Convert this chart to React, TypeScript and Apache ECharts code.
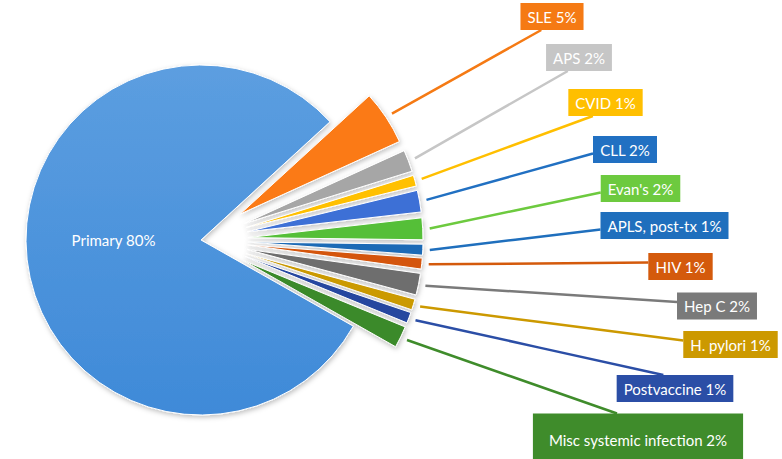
import React, { useEffect, useRef } from "react";
import * as echarts from "echarts";

// ---- data ----
const categories = [
  "SLE",
  "APS",
  "CVID",
  "CLL",
  "Evan's",
  "APLS, post-tx",
  "HIV",
  "Hep C",
  "H. pylori",
  "Postvaccine",
  "Misc systemic infection",
  "Primary",
];
const values = [5, 2, 1, 2, 2, 1, 1, 2, 1, 1, 2, 80];

// ---- styles ----
const sliceColors = [
  "#fb7a14",
  "#a6a6a6",
  "#ffc000",
  "#3e70d6",
  "#55bf38",
  "#1f6bb6",
  "#d4550a",
  "#6e6e6e",
  "#cb9a06",
  "#25479f",
  "#3b8a2a",
  "#4a91dc",
];
const labelColors = [
  "#f57a14",
  "#c6c6c6",
  "#ffbf00",
  "#2170c2",
  "#6dca3f",
  "#1f6fbd",
  "#d45a0c",
  "#7a7a7a",
  "#cc9900",
  "#2b4ea6",
  "#3f8c2b",
];
// label box centres (layout) and which side the leader line meets
const labelCenters: [number, number][] = [
  [552, 16.5],
  [579, 57.5],
  [605.5, 102.5],
  [625, 149.5],
  [640.5, 188.5],
  [664.5, 225.5],
  [680.5, 266.5],
  [717, 306],
  [730.5, 344.5],
  [675, 388.5],
  [638, 440],
];
const labelAnchors = ["b", "b", "b", "l", "l", "l", "l", "l", "l", "t", "t"];

const CX = 201;
const CY = 240;
const R = 175;
const OFFSET = 47;
const START = 42.5;

export default function App() {
  const ref = useRef<HTMLDivElement>(null);
  useEffect(() => {
    if (!ref.current) return;
    const chart = echarts.init(ref.current, undefined, { renderer: "svg" });
    const total = values.reduce((a, b) => a + b, 0);
    const midAngle = (i: number) => {
      let cum = 0;
      for (let k = 0; k < i; k++) cum += values[k];
      return ((START - (360 * (cum + values[i] / 2)) / total) * Math.PI) / 180;
    };
    const primaryIdx = categories.indexOf("Primary");

    const hiddenItem = (name: string, v: number) => ({
      name,
      value: v,
      itemStyle: {
        color: "rgba(0,0,0,0)",
        borderWidth: 0,
        shadowBlur: 0,
        shadowColor: "rgba(0,0,0,0)",
      },
      label: { show: false },
      labelLine: { show: false },
    });

    const series = categories.map((_, k) => {
      const isPrimary = k === primaryIdx;
      const a = midAngle(k);
      const cx = isPrimary ? CX : CX + Math.cos(a) * OFFSET;
      const cy = isPrimary ? CY : CY - Math.sin(a) * OFFSET;
      const data = categories.map((name, i) => {
        if (i !== k) return hiddenItem(name, values[i]);
        if (isPrimary) {
          return {
            name,
            value: values[i],
            itemStyle: {
              color: {
                type: "linear",
                x: 0,
                y: 0,
                x2: 0,
                y2: 1,
                colorStops: [
                  { offset: 0, color: "#5c9ee0" },
                  { offset: 1, color: "#3f8ad8" },
                ],
              },
            },
            label: {
              show: true,
              position: "inside",
              fontSize: 15,
              color: "#ffffff",
            },
            labelLine: { show: false },
          };
        }
        return {
          name,
          value: values[i],
          itemStyle: { color: sliceColors[i] },
          label: {
            show: true,
            position: "outside",
            backgroundColor: labelColors[i],
            padding: i === 10 ? [18, 16] : [5, 7],
          },
          labelLine: { show: true, lineStyle: { color: labelColors[i] } },
        };
      });
      return {
        type: "pie",
        center: [cx, cy],
        radius: R,
        startAngle: START,
        clockwise: true,
        avoidLabelOverlap: false,
        silent: true,
        emphasis: { disabled: true },
        itemStyle: {
          borderColor: "#ffffff",
          borderWidth: 1,
          shadowBlur: 5,
          shadowColor: "rgba(0,0,0,0.25)",
          shadowOffsetX: 1,
          shadowOffsetY: 2,
        },
        label: {
          formatter: (p: any) => `${p.name} ${p.value}%`,
          fontFamily: "Lato, 'Noto Sans', sans-serif",
          fontSize: 15,
          lineHeight: 17,
          color: "#ffffff",
        },
        labelLine: {
          length: 10,
          length2: 10,
          lineStyle: { width: 2.5 },
        },
        labelLayout: (params: any) => {
          const i = params.dataIndex;
          if (i !== k) return {};
          if (isPrimary) {
            return {
              x: CX - R / 2,
              y: CY,
              align: "center",
              verticalAlign: "middle",
            };
          }
          const [lx, ly] = labelCenters[i];
          const rr = R + 7;
          const sx = cx + Math.cos(a) * rr;
          const sy = cy - Math.sin(a) * rr;
          const w = params.labelRect.width;
          const h = params.labelRect.height;
          let ex = lx - w / 2;
          let ey = ly + (ly < CY ? 4 : -4);
          if (labelAnchors[i] === "b") {
            ex = lx - w / 2 + 0.33 * w;
            ey = ly + h / 2;
          } else if (labelAnchors[i] === "t") {
            ex = lx - w / 2 + 0.4 * w;
            ey = ly - h / 2;
          }
          return {
            x: lx,
            y: ly,
            align: "center",
            verticalAlign: "middle",
            hideOverlap: false,
            labelLinePoints: [
              [sx, sy],
              [(sx + ex) / 2, (sy + ey) / 2],
              [ex, ey],
            ],
          };
        },
        data,
      };
    });

    chart.setOption({
      animation: false,
      backgroundColor: "#ffffff",
      series,
    });
    return () => chart.dispose();
  }, []);
  return (
    <div
      ref={ref}
      style={{ position: "fixed", left: 0, top: 0, width: 782, height: 459 }}
    />
  );
}
